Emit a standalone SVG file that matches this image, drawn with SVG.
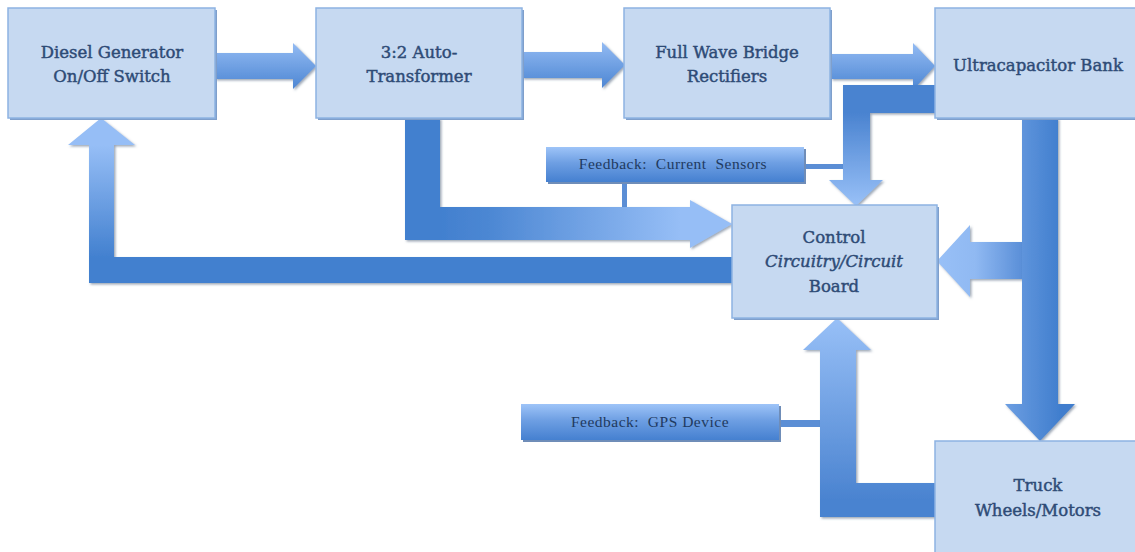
<svg xmlns="http://www.w3.org/2000/svg" width="1135" height="552" viewBox="0 0 1135 552">
<style>
.box{fill:#C6D9F1;stroke:#8DB3E2;stroke-width:1.5}
.bsh{fill:#7F9FCB}
.t{font-family:"DejaVu Serif","Liberation Serif",serif;font-size:16.5px;fill:#2E4B76;stroke:#2E4B76;stroke-width:0.45;text-anchor:middle}
.fb{font-family:"Liberation Serif",serif;font-size:15.5px;letter-spacing:0.5px;fill:#1F3A60;text-anchor:middle;white-space:pre}
.arr{filter:url(#sh)}
</style>
<defs>
<filter id="sh" x="-10%" y="-10%" width="120%" height="120%">
<feDropShadow dx="1.5" dy="1.5" stdDeviation="0.8" flood-color="#4D5F7A" flood-opacity="0.55"/>
</filter>
<linearGradient id="gTop" x1="0" y1="0" x2="0" y2="1">
<stop offset="0" stop-color="#93BBF3"/><stop offset="1" stop-color="#4D86D3"/>
</linearGradient>
<linearGradient id="gAC" gradientUnits="userSpaceOnUse" x1="440" y1="0" x2="680" y2="0">
<stop offset="0" stop-color="#4280CF"/><stop offset="0.2" stop-color="#4C87D3"/><stop offset="1" stop-color="#96BEF6"/>
</linearGradient>
<linearGradient id="gCD" gradientUnits="userSpaceOnUse" x1="0" y1="145" x2="0" y2="258">
<stop offset="0" stop-color="#96BEF6"/><stop offset="1" stop-color="#4280CF"/>
</linearGradient>
<linearGradient id="gUC" gradientUnits="userSpaceOnUse" x1="0" y1="113" x2="0" y2="205">
<stop offset="0" stop-color="#4A83D0"/><stop offset="1" stop-color="#98C0F7"/>
</linearGradient>
<linearGradient id="gUT" gradientUnits="userSpaceOnUse" x1="1005" y1="0" x2="1062" y2="0">
<stop offset="0" stop-color="#6C9EE2"/><stop offset="1" stop-color="#3F7DCD"/>
</linearGradient>
<linearGradient id="gBR" gradientUnits="userSpaceOnUse" x1="937" y1="0" x2="1022" y2="0">
<stop offset="0" stop-color="#98C0F7"/><stop offset="0.45" stop-color="#90B9F2"/><stop offset="1" stop-color="#5A8FD8"/>
</linearGradient>
<linearGradient id="gTC" gradientUnits="userSpaceOnUse" x1="0" y1="318" x2="0" y2="500">
<stop offset="0" stop-color="#98C0F7"/><stop offset="1" stop-color="#4A83D0"/>
</linearGradient>
<linearGradient id="gFB" x1="0" y1="0" x2="0" y2="1">
<stop offset="0" stop-color="#9EC4F8"/><stop offset="0.45" stop-color="#6E9FE3"/><stop offset="1" stop-color="#4580D0"/>
</linearGradient>
</defs>

<g id="connectors">
<g id="feedback-lines" fill="#5B8ED5">
<rect x="800" y="164" width="45" height="5"/>
<rect x="622" y="180" width="5" height="28"/>
<rect x="776" y="420" width="46" height="7"/>
</g>
<path class="arr" fill="url(#gTop)" d="M215,53 H293 V43 L316,66 L293,89 V79 H215 Z"/>
<path class="arr" fill="url(#gTop)" d="M522,52 H602 V42 L625,65 L602,88 V78 H522 Z"/>
<path class="arr" fill="url(#gTop)" d="M831,54 H913 V43 L935,66 L913,90 V79 H831 Z"/>
<path class="arr" fill="url(#gAC)" d="M405,118 H440 V207 H690 V200 L732,224 L690,248 V240 H405 Z"/>
<path class="arr" fill="url(#gCD)" d="M732,257 H114 V145 H135 L101,118 L68,145 H89 V283 H732 Z"/>
<path class="arr" fill="url(#gUC)" d="M940,85 V113 H870 V180 H883 L856,206 L829,180 H843 V85 Z"/>
<path class="arr" fill="url(#gBR)" d="M1024,242 H970 V225 L937,261 L970,297 V279 H1024 Z"/>
<path class="arr" fill="url(#gUT)" d="M1022,118 V404 H1005 L1040,441 L1075,404 H1058 V118 Z"/>
<path class="arr" fill="url(#gTC)" d="M940,483 V517 H820 V350 H803 L837,318 L871,350 H856 V483 Z"/>
</g>

<g id="diesel">
<rect class="bsh" x="10" y="10" width="207" height="110"/>
<rect class="box" x="8" y="8" width="207" height="110"/>
<text class="t" x="112" y="58">Diesel Generator</text>
<text class="t" x="112" y="82">On/Off Switch</text>
</g>
<g id="autotransformer">
<rect class="bsh" x="318" y="10" width="206" height="110"/>
<rect class="box" x="316" y="8" width="206" height="110"/>
<text class="t" x="419" y="58">3:2 Auto-</text>
<text class="t" x="419" y="82">Transformer</text>
</g>
<g id="rectifiers">
<rect class="bsh" x="626" y="10" width="206" height="110"/>
<rect class="box" x="624" y="8" width="206" height="110"/>
<text class="t" x="727" y="58">Full Wave Bridge</text>
<text class="t" x="727" y="82">Rectifiers</text>
</g>
<g id="ultracapacitor">
<rect class="bsh" x="937" y="10" width="206" height="110"/>
<rect class="box" x="935" y="8" width="206" height="110"/>
<text class="t" x="1038" y="71">Ultracapacitor Bank</text>
</g>
<g id="control">
<rect class="bsh" x="734" y="207" width="205" height="113"/>
<rect class="box" x="732" y="205" width="205" height="113"/>
<text class="t" x="834" y="243">Control</text>
<text class="t" x="834" y="267" font-style="italic">Circuitry/Circuit</text>
<text class="t" x="834" y="292">Board</text>
</g>
<g id="truck">
<rect class="bsh" x="937" y="443" width="206" height="112"/>
<rect class="box" x="935" y="441" width="206" height="112"/>
<text class="t" x="1038" y="491">Truck</text>
<text class="t" x="1038" y="516">Wheels/Motors</text>
</g>
<g id="feedback-current">
<rect x="548" y="149" width="258" height="35" fill="#6F8DB8"/>
<rect x="546" y="147" width="258" height="35" fill="url(#gFB)"/>
<text class="fb" x="673" y="169">Feedback:  Current  Sensors</text>
</g>
<g id="feedback-gps">
<rect x="523" y="406" width="258" height="36" fill="#6F8DB8"/>
<rect x="521" y="404" width="258" height="36" fill="url(#gFB)"/>
<text class="fb" x="650" y="427">Feedback:  GPS Device</text>
</g>
</svg>
